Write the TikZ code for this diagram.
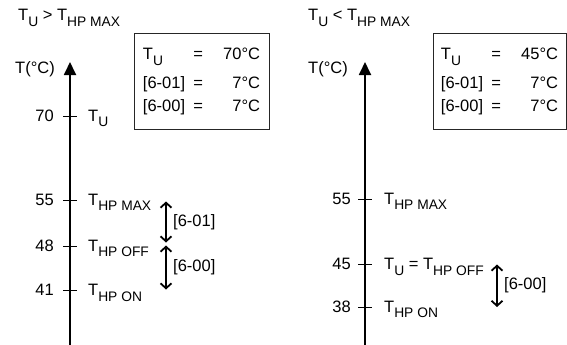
\documentclass[tikz,border=0pt]{standalone}
\usepackage{fontspec}
\setmainfont{Liberation Sans}
\usepackage{array}
\usetikzlibrary{arrows.meta}
\newcommand{\subtxt}[1]{\raisebox{-5.5pt}{\fontsize{13.8}{13.8}\selectfont #1}}

\begin{document}
\begin{tikzpicture}[x=1pt, y=-1pt, font=\fontsize{16.5}{22.5}\selectfont,
  axis/.style={line width=1.8pt, -{Triangle[length=13pt, width=12pt]}},
  tick/.style={line width=1pt},
  num/.style={anchor=base east, inner sep=0pt},
  lbl/.style={anchor=base west, inner sep=0pt},
  span/.style={line width=1.8pt, {Straight Barb[length=5pt, width=11pt]}-{Straight Barb[length=5pt, width=11pt]}},
  spanlbl/.style={anchor=west, inner sep=0pt},
  infobox/.style={draw=black!85, line width=0.8pt, minimum width=135pt, minimum height=96pt, inner sep=0pt}]
  \useasboundingbox (0,0) rectangle (567,345);

  % left: T_U above T_HP MAX
  \node[lbl] (titlel) at (18,21) {T\subtxt{U} > T\subtxt{HP MAX}};
  \node[num] (unitl) at (55,74) {T(°C)};
  \coordinate (botl) at (70,345);
  \coordinate (topl) at (70,62);
  \draw[axis] (botl) -- (topl);
  \draw[tick] (63,116) -- (77,116);
  \draw[tick] (63,200) -- (77,200);
  \draw[tick] (63,246) -- (77,246);
  \draw[tick] (63,290.5) -- (77,290.5);
  \node[num] (n70) at (54,121) {70};
  \node[num] (n55l) at (54,205) {55};
  \node[num] (n48) at (54,251) {48};
  \node[num] (n41) at (54,295.5) {41};
  \node[lbl] (tul) at (88,121) {T\subtxt{U}};
  \node[lbl] (maxl) at (88,205) {T\subtxt{HP MAX}};
  \node[lbl] (offl) at (88,251) {T\subtxt{HP OFF}};
  \node[lbl] (onl) at (88,295.5) {T\subtxt{HP ON}};
  \coordinate (d1top) at (166,201.5);
  \coordinate (d1bot) at (166,242.5);
  \coordinate (d0top) at (166,245.5);
  \coordinate (d0bot) at (166,289.5);
  \draw[span] (d1top) -- (d1bot);
  \draw[span] (d0top) -- (d0bot);
  \node[spanlbl] (p601) at (173,222.5) {[6-01]};
  \node[spanlbl] (p600l) at (173,267) {[6-00]};
  \node[infobox] (boxl) at (201.5,81) {\begin{tabular}{@{}p{50.5pt}@{}c@{}>{\raggedleft\arraybackslash}p{57pt}@{}}
    T\subtxt{U} & = & 70°C\\[6.5pt]
    {[6-01]} & = & 7°C\\
    {[6-00]} & = & 7°C
  \end{tabular}};

  % right: T_U below T_HP MAX
  \node[lbl] (titler) at (308,21) {T\subtxt{U} < T\subtxt{HP MAX}};
  \node[num] (unitr) at (348,74) {T(°C)};
  \coordinate (botr) at (365,345);
  \coordinate (topr) at (365,62);
  \draw[axis] (botr) -- (topr);
  \draw[tick] (358,199) -- (372,199);
  \draw[tick] (358,264.5) -- (372,264.5);
  \draw[tick] (358,307) -- (372,307);
  \node[num] (n55r) at (351,204) {55};
  \node[num] (n45) at (351,269.5) {45};
  \node[num] (n38) at (351,312) {38};
  \node[lbl] (maxr) at (384,204) {T\subtxt{HP MAX}};
  \node[lbl] (offr) at (384,269.5) {T\subtxt{U} = T\subtxt{HP OFF}};
  \node[lbl] (onr) at (384,312) {T\subtxt{HP ON}};
  \coordinate (d0topr) at (497,264.5);
  \coordinate (d0botr) at (497,307);
  \draw[span] (d0topr) -- (d0botr);
  \node[spanlbl] (p600r) at (504,285.5) {[6-00]};
  \node[infobox, minimum width=133pt] (boxr) at (499.5,81) {\begin{tabular}{@{}p{50.5pt}@{}c@{}>{\raggedleft\arraybackslash}p{57pt}@{}}
    T\subtxt{U} & = & 45°C\\[6.5pt]
    {[6-01]} & = & 7°C\\
    {[6-00]} & = & 7°C
  \end{tabular}};
\end{tikzpicture}
\end{document}
